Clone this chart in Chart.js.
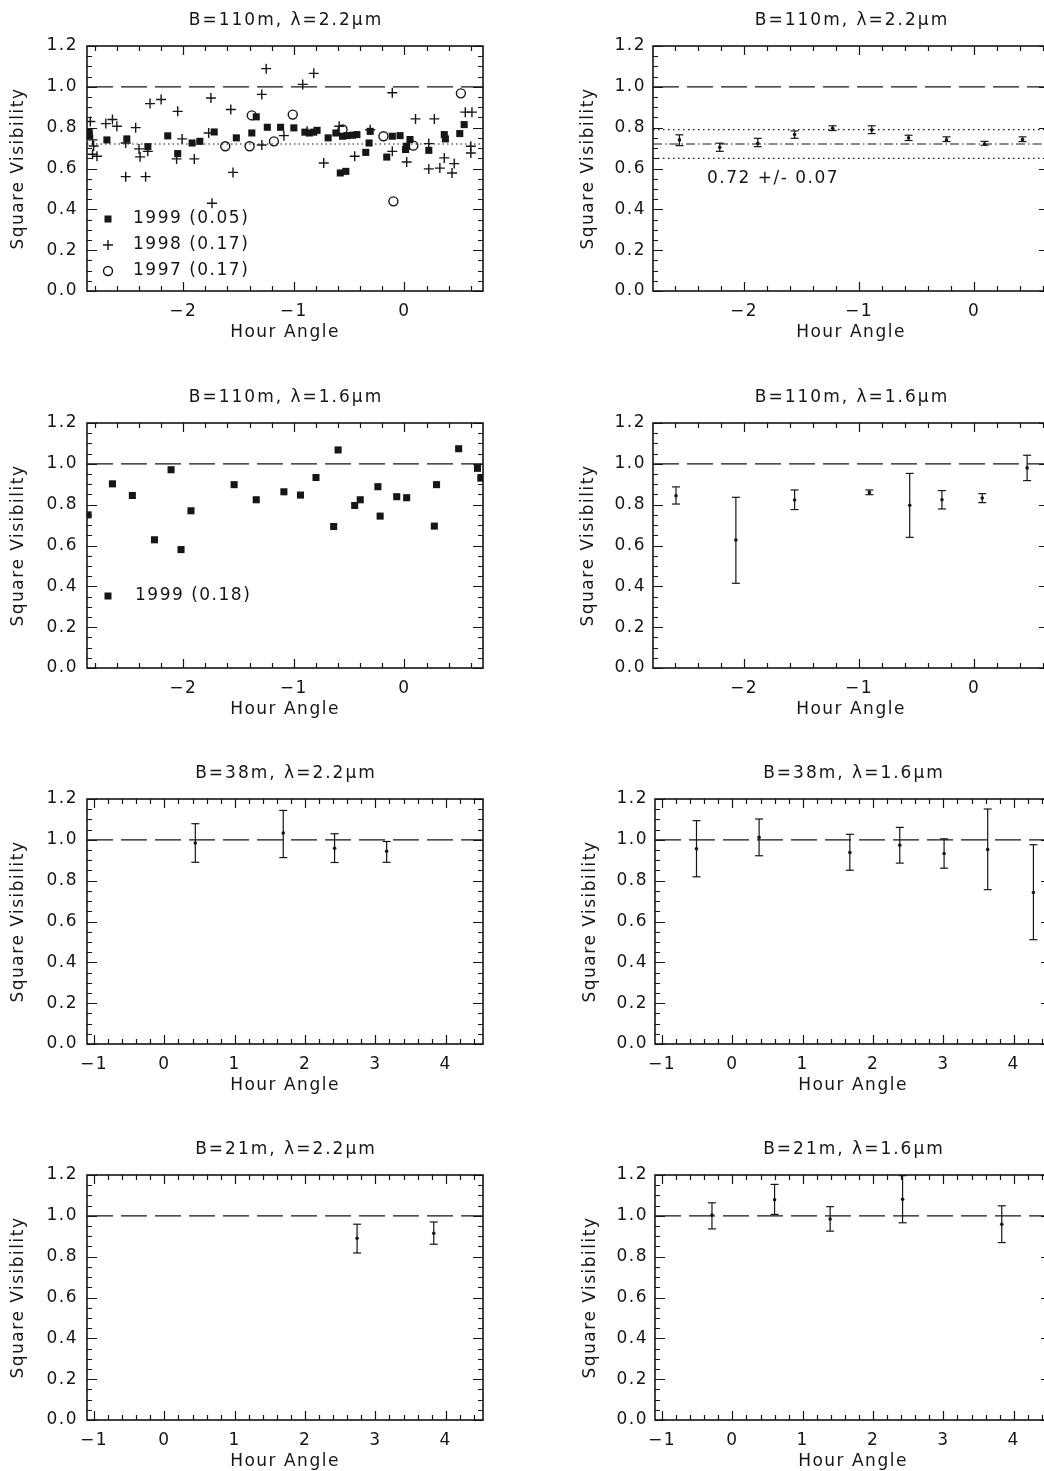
<!DOCTYPE html>
<html>
<head>
<meta charset="utf-8">
<script src="https://cdn.jsdelivr.net/npm/chart.js@4.4.1/dist/chart.umd.min.js"></script>
<style>
html, body { margin: 0; padding: 0; overflow: hidden; background: #fff; width: 1044px; height: 1471px; }
#page { position: relative; width: 1044px; height: 1471px; overflow: hidden; }
canvas { position: absolute; }
</style>
</head>
<body>
<div id="page"></div>
<script>
const ink = '#161616';
const family = '"DejaVu Sans", "Liberation Sans", sans-serif';

// tick labels
const yTickLabels = [0.0, 0.2, 0.4, 0.6, 0.8, 1.0, 1.2];
const xTickLabels110 = [-2, -1, 0];
const xTickLabelsShort = [-1, 0, 1, 2, 3, 4];
const unresolved = 1.0;

// B=110m, 2.2um: single measurements per season
const haK99 = [-2.85, -2.85, -2.69, -2.51, -2.32, -2.14, -2.05, -1.92, -1.85, -1.72, -1.52, -1.38, -1.34, -1.24, -1.12, -1.00, -0.90, -0.86, -0.82, -0.79, -0.69, -0.62, -0.58, -0.56, -0.53, -0.52, -0.47, -0.43, -0.35, -0.32, -0.31, -0.16, -0.11, -0.04, 0.01, 0.02, 0.05, 0.22, 0.36, 0.37, 0.50, 0.54];
const vK99 = [0.78, 0.76, 0.74, 0.745, 0.707, 0.76, 0.673, 0.725, 0.733, 0.779, 0.75, 0.774, 0.853, 0.802, 0.802, 0.799, 0.778, 0.774, 0.778, 0.787, 0.75, 0.774, 0.578, 0.758, 0.586, 0.761, 0.763, 0.766, 0.679, 0.725, 0.782, 0.656, 0.758, 0.761, 0.693, 0.709, 0.742, 0.689, 0.766, 0.745, 0.771, 0.815];
const haK98 = [-2.84, -2.82, -2.81, -2.82, -2.78, -2.70, -2.64, -2.60, -2.52, -2.52, -2.43, -2.40, -2.39, -2.34, -2.32, -2.30, -2.20, -2.06, -2.05, -2.01, -1.90, -1.77, -1.75, -1.74, -1.57, -1.55, -1.29, -1.29, -1.25, -1.09, -0.92, -0.88, -0.82, -0.73, -0.59, -0.45, -0.31, -0.11, -0.11, 0.02, 0.10, 0.22, 0.22, 0.27, 0.32, 0.36, 0.43, 0.45, 0.55, 0.60, 0.60, 0.61];
const vK98 = [0.83, 0.74, 0.71, 0.67, 0.66, 0.82, 0.84, 0.807, 0.725, 0.56, 0.80, 0.696, 0.657, 0.56, 0.684, 0.918, 0.938, 0.647, 0.88, 0.745, 0.647, 0.774, 0.945, 0.43, 0.889, 0.581, 0.963, 0.715, 1.089, 0.761, 1.012, 0.782, 1.066, 0.627, 0.807, 0.66, 0.79, 0.971, 0.684, 0.632, 0.843, 0.722, 0.598, 0.843, 0.602, 0.652, 0.578, 0.624, 0.876, 0.709, 0.676, 0.876];
const haK97 = [-1.62, -1.40, -1.38, -1.18, -1.01, -0.56, -0.19, -0.10, 0.08, 0.51];
const vK97 = [0.709, 0.709, 0.86, 0.733, 0.864, 0.791, 0.758, 0.439, 0.712, 0.968];
const legendK = ['1999 (0.05)', '1998 (0.17)', '1997 (0.17)'];

// B=110m, 2.2um: binned
const haKbin = [-2.56, -2.21, -1.88, -1.56, -1.23, -0.89, -0.57, -0.24, 0.09, 0.42];
const vKbin = [0.74, 0.704, 0.724, 0.766, 0.797, 0.789, 0.75, 0.74, 0.72, 0.742];
const loKbin = [0.712, 0.684, 0.707, 0.748, 0.786, 0.771, 0.737, 0.732, 0.714, 0.732];
const hiKbin = [0.765, 0.724, 0.748, 0.784, 0.809, 0.809, 0.763, 0.755, 0.733, 0.755];
const meanK = 0.72;
const sigK = 0.07;

// B=110m, 1.6um
const haH99 = [-2.86, -2.64, -2.46, -2.26, -2.11, -2.02, -1.93, -1.54, -1.34, -1.09, -0.94, -0.80, -0.64, -0.60, -0.45, -0.40, -0.24, -0.22, -0.07, 0.02, 0.27, 0.29, 0.49, 0.66, 0.69];
const vH99 = [0.75, 0.902, 0.845, 0.628, 0.971, 0.58, 0.77, 0.898, 0.824, 0.863, 0.847, 0.933, 0.693, 1.068, 0.796, 0.824, 0.888, 0.744, 0.839, 0.834, 0.695, 0.898, 1.074, 0.978, 0.93];
const legendH = ['1999 (0.18)'];
const haHbin = [-2.59, -2.07, -1.56, -0.91, -0.56, -0.28, 0.07, 0.46];
const vHbin = [0.844, 0.627, 0.823, 0.86, 0.797, 0.824, 0.833, 0.98];
const loHbin = [0.803, 0.415, 0.776, 0.849, 0.64, 0.779, 0.81, 0.918];
const hiHbin = [0.887, 0.836, 0.872, 0.872, 0.953, 0.869, 0.854, 1.042];

// B=38m
const ha38K = [0.44, 1.69, 2.42, 3.16];
const v38K = [0.984, 1.033, 0.959, 0.944];
const lo38K = [0.89, 0.913, 0.889, 0.89];
const hi38K = [1.079, 1.144, 1.03, 0.992];
const ha38H = [-0.51, 0.38, 1.67, 2.38, 3.01, 3.63, 4.28];
const v38H = [0.956, 1.012, 0.938, 0.974, 0.933, 0.953, 0.742];
const lo38H = [0.819, 0.922, 0.851, 0.886, 0.861, 0.756, 0.511];
const hi38H = [1.094, 1.102, 1.027, 1.061, 1.005, 1.151, 0.976];

// B=21m
const ha21K = [2.74, 3.83];
const v21K = [0.89, 0.915];
const lo21K = [0.818, 0.861];
const hi21K = [0.959, 0.970];
const ha21H = [-0.29, 0.60, 1.39, 2.42, 3.83];
const v21H = [1.004, 1.079, 0.984, 1.081, 0.959];
const lo21H = [0.936, 1.007, 0.925, 0.966, 0.869];
const hi21H = [1.064, 1.154, 1.045, 1.197, 1.049];

const pts = (xs, ys) => xs.map((x, i) => ({x, y: ys[i]}));
const bars = (xs, lo, hi) => xs.flatMap((x, i) => [{x, y: lo[i]}, {x, y: hi[i]}, {x, y: null}]);

function steps(min, max, step) {
    const out = [];
    for (let k = Math.ceil(min / step - 1e-9); k * step <= max + 1e-9; k++) {
        out.push(+(k * step).toFixed(6));
    }
    return out;
}

const fmtX = v => (v < 0 ? '\u2212' + Math.abs(v) : String(v));

function hline(y, range, dash) {
    return {
        data: [{x: range[0], y}, {x: range[1], y}],
        showLine: true, borderColor: ink, borderWidth: 1.2, borderDash: dash,
        pointRadius: 0
    };
}
function squares(data) {
    return {data, pointStyle: 'rect', pointRadius: 5, pointBackgroundColor: ink, pointBorderWidth: 0};
}
function crosses(data) {
    return {data, pointStyle: 'cross', pointRadius: 5, pointBorderColor: ink, pointBorderWidth: 1.4};
}
function circles(data) {
    return {data, pointStyle: 'circle', pointRadius: 4.5, pointBorderColor: ink, pointBackgroundColor: 'rgba(0,0,0,0)', pointBorderWidth: 1.4};
}
function errorSet(xs, v, lo, hi) {
    return [
        {data: bars(xs, lo, hi), showLine: true, spanGaps: false, borderColor: ink, borderWidth: 1.2,
         pointStyle: 'line', pointRadius: 4, pointBorderColor: ink, pointBorderWidth: 1.2},
        {data: pts(xs, v), pointStyle: 'circle', pointRadius: 1.8, pointBackgroundColor: ink, pointBorderWidth: 0}
    ];
}

// inward ticks on all four sides, IDL style, plus the panel heading
const frameTicks = {
    id: 'frameTicks',
    beforeLayout(chart) { chart.ctx.letterSpacing = '1.5px'; },
    beforeDraw(chart) { chart.ctx.letterSpacing = '1.5px'; },
    afterDraw(chart, args, opts) {
        const {ctx, chartArea: a, scales: {x, y}} = chart;
        ctx.save();
        ctx.strokeStyle = ink;
        ctx.lineWidth = 1.2;
        ctx.beginPath();
        for (const t of x.ticks) {
            const px = Math.round(x.getPixelForValue(t.value)) + 0.5;
            const len = t.label !== '' ? 9 : 5;
            ctx.moveTo(px, a.bottom); ctx.lineTo(px, a.bottom - len);
            ctx.moveTo(px, a.top); ctx.lineTo(px, a.top + len);
        }
        for (const t of y.ticks) {
            const py = Math.round(y.getPixelForValue(t.value)) + 0.5;
            const len = t.label !== '' ? 10 : 5;
            ctx.moveTo(a.left, py); ctx.lineTo(a.left + len, py);
            ctx.moveTo(a.right, py); ctx.lineTo(a.right - len, py);
        }
        ctx.stroke();
        ctx.lineWidth = 1.6;
        ctx.strokeRect(a.left, a.top, a.right - a.left, a.bottom - a.top);

        if (opts.heading) {
            ctx.letterSpacing = '2px';
            ctx.font = `17px ${family}`;
            ctx.fillStyle = ink;
            ctx.textAlign = 'center';
            ctx.textBaseline = 'middle';
            ctx.fillText(opts.heading, (a.left + a.right) / 2 + 1, a.top - 25);
        }
        ctx.restore();
    }
};

// legends and annotation text inside the plot box
const notes = {
    id: 'notes',
    afterDatasetsDraw(chart, args, opts) {
        const {ctx, chartArea: a} = chart;
        ctx.save();
        ctx.font = `17px ${family}`;
        ctx.fillStyle = ink;
        ctx.strokeStyle = ink;
        ctx.textBaseline = 'middle';
        ctx.textAlign = 'left';
        for (const n of (opts.items || [])) {
            const tx = a.left + n.dx, ty = a.top + n.dy;
            if (n.marker) {
                const mx = a.left + n.mx;
                ctx.lineWidth = 1.4;
                ctx.beginPath();
                if (n.marker === 'rect') {
                    ctx.fillRect(mx - 3.5, ty - 3.5, 7, 7);
                } else if (n.marker === 'cross') {
                    ctx.moveTo(mx - 5, ty); ctx.lineTo(mx + 5, ty);
                    ctx.moveTo(mx, ty - 5); ctx.lineTo(mx, ty + 5);
                    ctx.stroke();
                } else {
                    ctx.arc(mx, ty, 4.5, 0, Math.PI * 2);
                    ctx.stroke();
                }
            }
            ctx.fillText(n.text, tx, ty);
        }
        ctx.restore();
    }
};

function panel(pos, title, xRange, xLabels, datasets, items) {
    const cv = document.createElement('canvas');
    cv.width = 500;
    cv.height = 347;
    cv.style.left = pos.left + 'px';
    cv.style.top = pos.top + 'px';
    document.getElementById('page').appendChild(cv);
    const font = {family, size: 17, weight: 'normal'};
    return new Chart(cv.getContext('2d'), {
        type: 'scatter',
        data: {datasets},
        plugins: [frameTicks, notes],
        options: {
            responsive: false,
            animation: false,
            events: [],
            layout: {padding: {left: 0, right: 17, top: 46, bottom: 0}},
            plugins: {
                legend: {display: false},
                tooltip: {enabled: false},
                title: {display: false},
                frameTicks: {heading: title},
                notes: {items: items || []}
            },
            scales: {
                x: {
                    type: 'linear', min: xRange[0], max: xRange[1],
                    afterFit: s => { s.height = 56; },
                    afterBuildTicks: s => { s.ticks = steps(s.min, s.max, 0.2).map(value => ({value})); },
                    grid: {display: false, drawTicks: false},
                    border: {display: false},
                    ticks: {autoSkip: false, maxRotation: 0, padding: 10, color: ink, font,
                        callback: v => (xLabels.includes(v) ? fmtX(v) : '')},
                    title: {display: true, text: 'Hour Angle', color: ink, font, padding: {top: 0, bottom: 4}}
                },
                y: {
                    type: 'linear', min: 0, max: 1.2,
                    afterFit: s => { s.width = 87; },
                    afterBuildTicks: s => { s.ticks = steps(0, 1.2, 0.05).map(value => ({value})); },
                    grid: {display: false, drawTicks: false},
                    border: {display: false},
                    ticks: {autoSkip: false, padding: pos.tickPad, color: ink, font,
                        callback: v => (yTickLabels.includes(v) ? v.toFixed(1) : '')},
                    title: {display: true, text: 'Square Visibility', color: ink, font, padding: {top: pos.titlePad, bottom: 0}}
                }
            }
        }
    });
}

const rangeLong = [-2.87, 0.71];
const rangeBin = [-2.79, 0.65];
const rangeShort = [-1.1, 4.53];
const L = (top) => ({left: 0, top, tickPad: 9, titlePad: 8});
const R = (top, left) => ({left, top, tickPad: 7, titlePad: 12});

panel(L(0), 'B=110m, \u03bb=2.2\u03bcm', rangeLong, xTickLabels110, [
    squares(pts(haK99, vK99)),
    crosses(pts(haK98, vK98)),
    circles(pts(haK97, vK97)),
    hline(unresolved, rangeLong, [26, 8]),
    hline(meanK, rangeLong, [1.5, 3])
], [
    {text: legendK[0], dx: 46, dy: 173, mx: 21, marker: 'rect'},
    {text: legendK[1], dx: 46, dy: 199, mx: 21, marker: 'cross'},
    {text: legendK[2], dx: 46, dy: 225, mx: 21, marker: 'circle'}
]);

panel(R(0, 566), 'B=110m, \u03bb=2.2\u03bcm', rangeBin, xTickLabels110, [
    ...errorSet(haKbin, vKbin, loKbin, hiKbin),
    hline(unresolved, rangeBin, [26, 8]),
    hline(meanK, rangeBin, [9, 3, 1.5, 3]),
    hline(meanK + sigK, rangeBin, [1.5, 3.5]),
    hline(meanK - sigK, rangeBin, [1.5, 3.5])
], [
    {text: `${meanK.toFixed(2)} +/- ${sigK.toFixed(2)}`, dx: 54, dy: 133}
]);

panel(L(377), 'B=110m, \u03bb=1.6\u03bcm', rangeLong, xTickLabels110, [
    squares(pts(haH99, vH99)),
    hline(unresolved, rangeLong, [26, 8])
], [
    {text: legendH[0], dx: 48, dy: 173, mx: 21, marker: 'rect'}
]);

panel(R(377, 566), 'B=110m, \u03bb=1.6\u03bcm', rangeBin, xTickLabels110, [
    ...errorSet(haHbin, vHbin, loHbin, hiHbin),
    hline(unresolved, rangeBin, [26, 8])
]);

panel(L(753), 'B=38m, \u03bb=2.2\u03bcm', rangeShort, xTickLabelsShort, [
    ...errorSet(ha38K, v38K, lo38K, hi38K),
    hline(unresolved, rangeShort, [26, 8])
]);

panel(R(753, 568), 'B=38m, \u03bb=1.6\u03bcm', rangeShort, xTickLabelsShort, [
    ...errorSet(ha38H, v38H, lo38H, hi38H),
    hline(unresolved, rangeShort, [26, 8])
]);

panel(L(1129), 'B=21m, \u03bb=2.2\u03bcm', rangeShort, xTickLabelsShort, [
    ...errorSet(ha21K, v21K, lo21K, hi21K),
    hline(unresolved, rangeShort, [26, 8])
]);

panel(R(1129, 568), 'B=21m, \u03bb=1.6\u03bcm', rangeShort, xTickLabelsShort, [
    ...errorSet(ha21H, v21H, lo21H, hi21H),
    hline(unresolved, rangeShort, [26, 8])
]);
</script>
</body>
</html>
